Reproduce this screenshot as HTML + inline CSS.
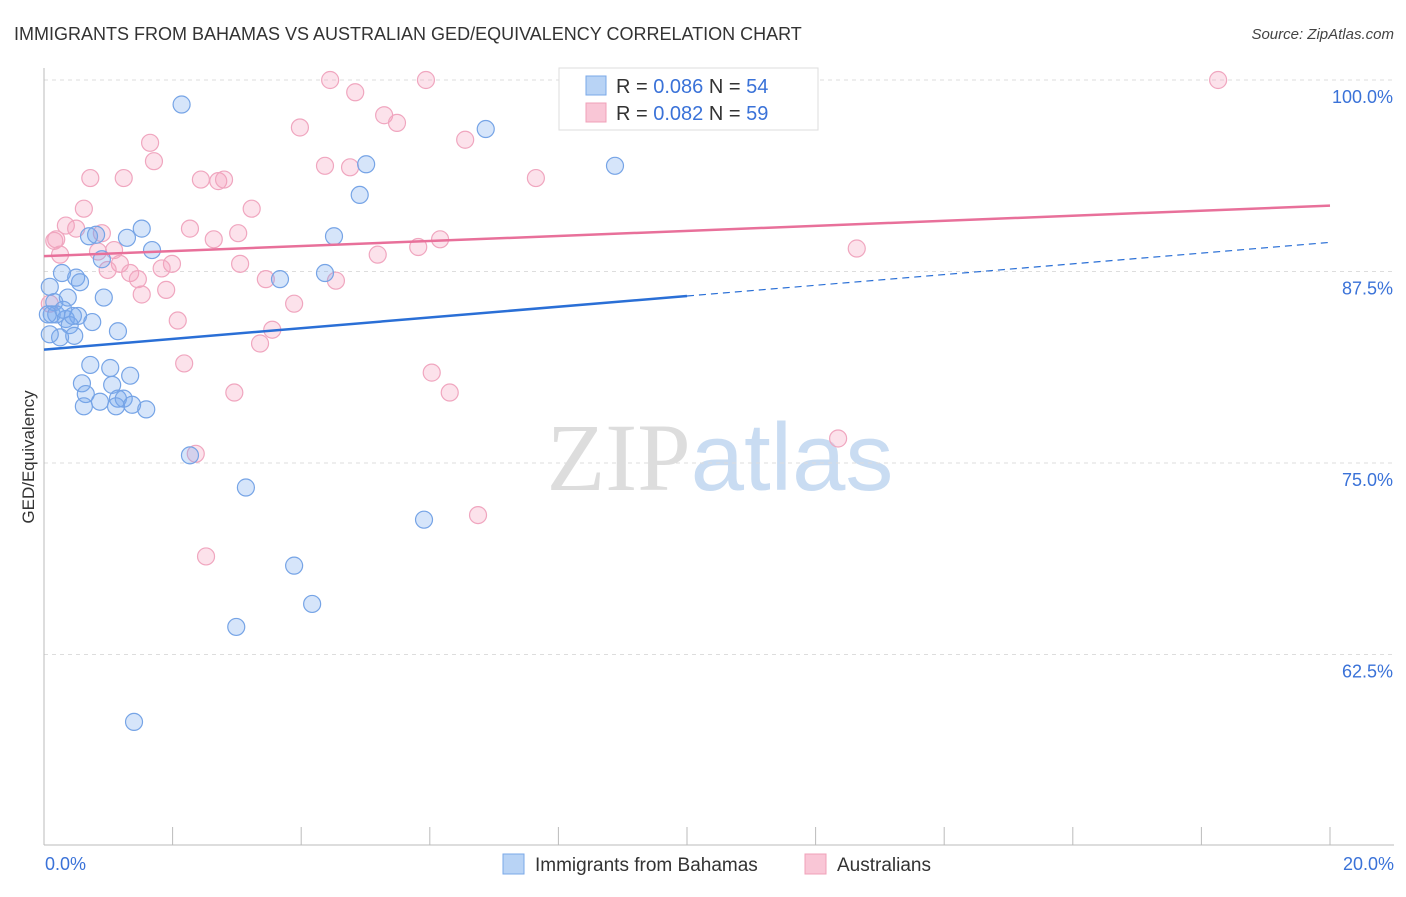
<!DOCTYPE html>
<html><head><meta charset="utf-8"><style>
body{margin:0;background:#fff;font-family:"Liberation Sans",sans-serif;}
svg text{font-family:"Liberation Sans",sans-serif;}
</style></head><body>
<svg id="chart" width="1406" height="892" xmlns="http://www.w3.org/2000/svg">
<text x="14" y="40" font-size="18" fill="#333">IMMIGRANTS FROM BAHAMAS VS AUSTRALIAN GED/EQUIVALENCY CORRELATION CHART</text>
<text x="1394" y="39" font-size="15" fill="#444" text-anchor="end" font-style="italic">Source: ZipAtlas.com</text>
<text x="720" y="490" font-size="96" text-anchor="middle"><tspan fill="#ddd" font-family="Liberation Serif">ZIP</tspan><tspan fill="#c9dcf2">atlas</tspan></text>
<g id="grid"></g>
<g id="axes"></g>
<g id="pts"></g>
<g id="trends"></g>
<text transform="translate(34,457) rotate(-90)" font-size="17" fill="#333" text-anchor="middle">GED/Equivalency</text>
<g>
<rect x="559" y="68" width="259" height="62" fill="#fff" stroke="#ddd"/>
<rect x="586" y="76" width="20" height="19" fill="#b8d3f5" stroke="#7aa8e8"/>
<text x="616" y="93" font-size="20" fill="#333">R = <tspan fill="#3a72d8">0.086</tspan>   N = <tspan fill="#3a72d8">54</tspan></text>
<rect x="586" y="103" width="20" height="19" fill="#f9c6d6" stroke="#f0a0b8"/>
<text x="616" y="120" font-size="20" fill="#333">R = <tspan fill="#3a72d8">0.082</tspan>   N = <tspan fill="#3a72d8">59</tspan></text>
</g>
<g>
<rect x="503" y="854" width="21" height="20" fill="#b8d3f5" stroke="#7aa8e8"/>
<text x="535" y="871" font-size="19" fill="#333">Immigrants from Bahamas</text>
<rect x="805" y="854" width="21" height="20" fill="#f9c6d6" stroke="#f0a0b8"/>
<text x="837" y="871" font-size="19" fill="#333">Australians</text>
</g>
</svg>
<script>
const yTicks=[100,87.5,75,62.5];
const yTickLabels=["100.0%","87.5%","75.0%","62.5%"];
const xTickLabels=["0.0%","20.0%"];
const blueX=[2.14,6.87,5.01,8.88,4.91,1.52,0.70,0.81,1.29,4.51,1.68,0.90,0.28,0.50,0.56,3.67,4.37,0.09,0.37,0.93,0.16,0.12,0.34,0.53,0.75,0.40,0.25,0.47,1.15,0.09,0.72,1.03,1.34,0.59,1.06,0.65,0.87,1.15,1.24,0.62,1.12,1.37,1.59,2.27,3.14,5.91,3.89,4.17,2.99,1.40,0.19,0.06,0.30,0.45];
const blueY=[98.4,96.8,94.5,94.4,92.5,90.3,89.8,89.9,89.7,89.8,88.9,88.3,87.4,87.1,86.8,87.0,87.4,86.5,85.8,85.8,85.5,84.7,84.4,84.6,84.2,84.0,83.2,83.3,83.6,83.4,81.4,81.2,80.7,80.2,80.1,79.5,79.0,79.2,79.2,78.7,78.7,78.8,78.5,75.5,73.4,71.3,68.3,65.8,64.3,58.1,84.7,84.7,85.0,84.6];
const pinkX=[4.45,5.94,18.26,4.84,5.29,5.49,3.98,6.55,1.65,1.71,4.37,4.76,0.72,1.24,2.44,2.71,2.80,7.65,0.62,3.23,0.34,0.50,2.27,0.90,3.02,0.19,0.16,2.64,6.16,0.25,0.84,1.09,5.82,5.19,12.64,1.18,1.99,3.05,0.99,1.83,1.34,1.46,3.45,4.54,1.90,1.52,3.89,2.08,3.55,3.36,2.18,2.96,6.03,6.31,12.35,2.36,6.75,2.52,0.09];
const pinkY=[100,100,100,99.2,97.7,97.2,96.9,96.1,95.9,94.7,94.4,94.3,93.6,93.6,93.5,93.4,93.5,93.6,91.6,91.6,90.5,90.3,90.3,90.0,90.0,89.6,89.5,89.6,89.6,88.6,88.8,88.9,89.1,88.6,89.0,88.0,88.0,88.0,87.6,87.7,87.4,87.0,87.0,86.9,86.3,86.0,85.4,84.3,83.7,82.8,81.5,79.6,80.9,79.6,76.6,75.6,71.6,68.9,85.4];
const blueTrend=[82.4,89.4];
const pinkTrend=[88.5,91.8];
const L=44,R=1330,T=80,B=845;
const X=v=>L+v/20*(R-L);
const Y=v=>T+(100-v)/12.5*191.5;
const NS="http://www.w3.org/2000/svg";
function mk(tag,attrs,parent){const e=document.createElementNS(NS,tag);for(const k in attrs)e.setAttribute(k,attrs[k]);parent.appendChild(e);return e;}
const grid=document.getElementById('grid'),axes=document.getElementById('axes'),pts=document.getElementById('pts'),tr=document.getElementById('trends');
yTicks.forEach((t,i)=>{
 const l=mk('line',{x1:L,x2:1394,y1:Y(t),y2:Y(t),stroke:'#ddd','stroke-dasharray':'4,4'},grid);
 
 
 const tx=mk('text',{x:1393,y:Y(t)+23,'font-size':18,fill:'#3a72d8','text-anchor':'end'},axes);
 tx.textContent=yTickLabels[i];
 
 
});
mk('line',{x1:L,x2:L,y1:68,y2:B,stroke:'#bbb'},axes);
mk('line',{x1:L,x2:1394,y1:B,y2:B,stroke:'#bbb'},axes);
for(let i=0;i<=10;i++){const tk=mk('line',{x1:X(i*2),x2:X(i*2),y1:B,y2:B-18,stroke:'#bbb'},axes);
 
 }
const xl0=mk('text',{x:45,y:870,'font-size':18,fill:'#3a72d8'},axes);xl0.textContent=xTickLabels[0];


const xl1=mk('text',{x:1394,y:870,'font-size':18,fill:'#3a72d8','text-anchor':'end'},axes);xl1.textContent=xTickLabels[1];


pinkX.forEach((x,i)=>{const c=mk('circle',{cx:X(x),cy:Y(pinkY[i]),r:8.5,fill:'rgba(245,160,190,0.3)',stroke:'#f0a6bf','stroke-width':1.2},pts);
 
 });
blueX.forEach((x,i)=>{const c=mk('circle',{cx:X(x),cy:Y(blueY[i]),r:8.5,fill:'rgba(120,170,240,0.3)',stroke:'#76a4e6','stroke-width':1.2},pts);
 
 });
const bm=blueTrend[0]+(blueTrend[1]-blueTrend[0])*0.5;
const b1=mk('line',{x1:X(0),y1:Y(blueTrend[0]),x2:X(10),y2:Y(bm),stroke:'#2a6fd6','stroke-width':2.5},tr);


const b2=mk('line',{x1:X(10),y1:Y(bm),x2:X(20),y2:Y(blueTrend[1]),stroke:'#2a6fd6','stroke-width':1.2,'stroke-dasharray':'7,5'},tr);


const p1=mk('line',{x1:X(0),y1:Y(pinkTrend[0]),x2:X(20),y2:Y(pinkTrend[1]),stroke:'#e8709a','stroke-width':2.5},tr);


</script>
</body></html>
